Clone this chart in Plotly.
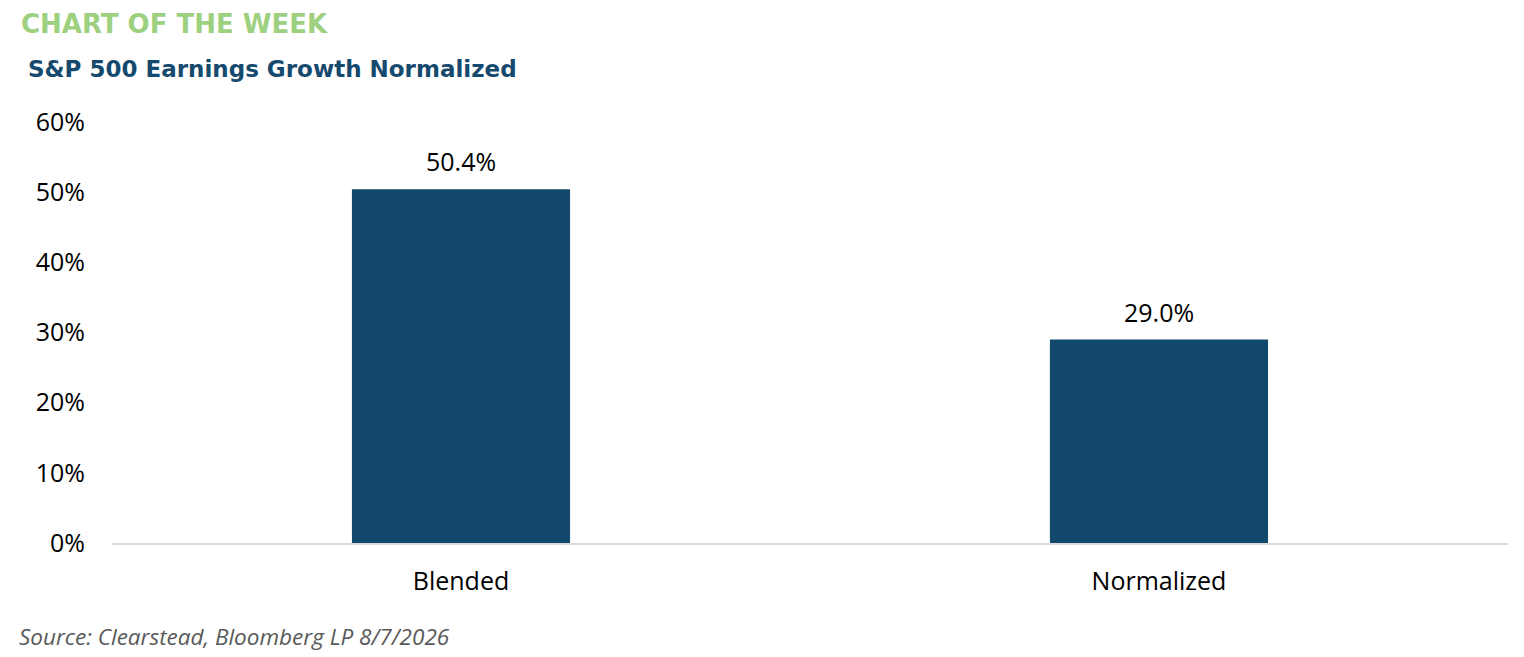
import plotly.graph_objects as go

categories = ["Blended", "Normalized"]
values = [50.4, 29.0]
tick_vals = [0, 10, 20, 30, 40, 50, 60]
tick_text = ["0%", "10%", "20%", "30%", "40%", "50%", "60%"]

W, H = 1524, 657
ML, MR, MT, MB = 112, 16, 122, 114
PW = W - ML - MR
PH = H - MT - MB

def px_x(x):
    return (x - ML) / PW

def px_y(y):
    return (H - MB - y) / PH

BAR = "#12486c"

fig = go.Figure()
fig.add_trace(go.Bar(
    x=categories, y=values, marker=dict(color=BAR, line=dict(width=0)),
    width=0.3125, hoverinfo="skip",
))

for c, v in zip(categories, values):
    fig.add_annotation(x=c, y=v, text=f"{v:.1f}%", showarrow=False,
                       yanchor="bottom", yshift=9,
                       font=dict(family="Open Sans", size=25, color="#000000"))

fig.add_annotation(xref="paper", yref="paper", x=px_x(19), y=px_y(24),
                   xanchor="left", yanchor="middle", showarrow=False,
                   text="<b>CHART OF THE WEEK</b>",
                   font=dict(family="DejaVu Sans", size=26, color="#9dd07f"))
fig.add_annotation(xref="paper", yref="paper", x=px_x(26), y=px_y(69),
                   xanchor="left", yanchor="middle", showarrow=False,
                   text="<b>S&P 500 Earnings Growth Normalized</b>",
                   font=dict(family="DejaVu Sans", size=23, color="#154a6e"))
fig.add_annotation(xref="paper", yref="paper", x=px_x(17), y=px_y(636),
                   xanchor="left", yanchor="middle", showarrow=False,
                   text="<i>Source: Clearstead, Bloomberg LP 8/7/2026</i>",
                   font=dict(family="Open Sans", size=22.5, color="#595959"))

fig.update_layout(
    width=W, height=H,
    margin=dict(l=ML, r=MR, t=MT, b=MB, pad=0),
    paper_bgcolor="white", plot_bgcolor="white",
    showlegend=False,
    font=dict(family="Open Sans", size=25, color="#000000"),
    xaxis=dict(showgrid=False, showline=True, linecolor="#d9d9d9", linewidth=2,
               ticks="", ticklabelstandoff=15, tickfont=dict(size=25)),
    yaxis=dict(range=[0, 60], tickvals=tick_vals, ticktext=tick_text,
               showgrid=False, zeroline=False, showline=False, ticks="",
               ticklabelstandoff=26, tickfont=dict(size=25)),
)

fig.write_html("out.html", config={"displayModeBar": False},
               post_script="document.body.style.margin='0';")
